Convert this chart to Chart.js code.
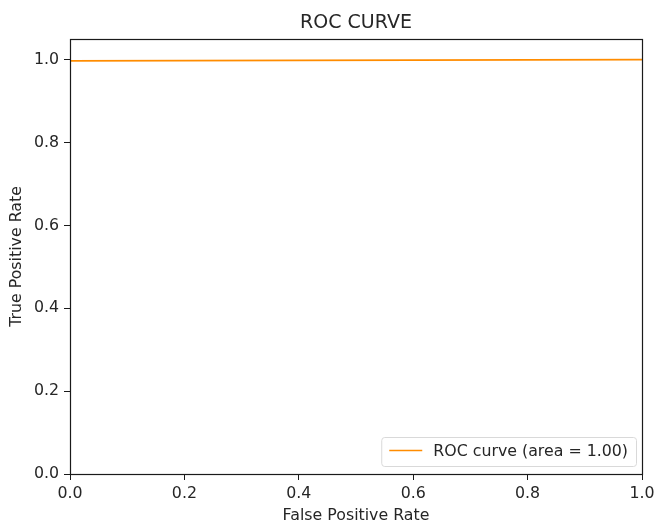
<!doctype html>
<html lang="en-US">
<head>
    <meta charset="utf-8" />
    <title>ROC CURVE</title>
    <script src="https://cdn.jsdelivr.net/npm/chart.js@4"></script>
    <style>
        html, body { margin: 0; padding: 0; background: #fff; }
        #wrap { width: 656px; height: 524px; }
    </style>
</head>
<body>
    <div id="wrap"><canvas id="roc"></canvas></div>
    <script>
        // ROC points
        const fpr = [0.0, 1.0];
        const tpr = [0.997, 1.0];
        const xTicks = [0.0, 0.2, 0.4, 0.6, 0.8, 1.0];
        const yTicks = [0.0, 0.2, 0.4, 0.6, 0.8, 1.0];
        const seriesLabel = 'ROC curve (area = 1.00)';

        const FONT = "'DejaVu Sans', sans-serif";
        const TEXT = '#262626';
        const FS = 15.8;

        // frame, title and legend drawn like matplotlib
        const mplDecor = {
            id: 'mplDecor',
            afterDraw(chart) {
                const { ctx, chartArea: a } = chart;
                ctx.save();
                ctx.strokeStyle = '#1a1a1a';
                ctx.lineWidth = 1.2;
                ctx.strokeRect(Math.round(a.left) + 0.5, Math.round(a.top) + 0.5,
                    Math.round(a.right - a.left), Math.round(a.bottom - a.top));

                ctx.fillStyle = TEXT;
                ctx.font = '19px ' + FONT;
                ctx.textAlign = 'center';
                ctx.textBaseline = 'alphabetic';
                ctx.fillText('ROC CURVE', (a.left + a.right) / 2, a.top - 11);

                // legend, lower right
                const ds = chart.data.datasets[0];
                ctx.font = FS + 'px ' + FONT;
                const tw = ctx.measureText(ds.label).width;
                const w = tw + 60, h = 29;
                const x = a.right - 6 - w, y = a.bottom - 8 - h;
                ctx.beginPath();
                ctx.roundRect(x + 0.5, y + 0.5, w, h, 3);
                ctx.fillStyle = 'rgba(255,255,255,0.8)';
                ctx.fill();
                ctx.strokeStyle = '#d9d9d9';
                ctx.lineWidth = 1;
                ctx.stroke();
                ctx.beginPath();
                ctx.strokeStyle = ds.borderColor;
                ctx.lineWidth = 1.6;
                ctx.moveTo(x + 8, y + 13.5);
                ctx.lineTo(x + 41, y + 13.5);
                ctx.stroke();
                ctx.fillStyle = TEXT;
                ctx.textAlign = 'left';
                ctx.textBaseline = 'middle';
                ctx.fillText(ds.label, x + 52, y + h / 2);
                ctx.restore();
            }
        };

        new Chart(document.getElementById('roc'), {
            type: 'line',
            data: {
                datasets: [{
                    label: seriesLabel,
                    data: fpr.map((v, i) => ({ x: v, y: tpr[i] })),
                    borderColor: '#ff8c00',
                    borderWidth: 1.8,
                    pointRadius: 0,
                    fill: false,
                    tension: 0
                }]
            },
            options: {
                responsive: true,
                maintainAspectRatio: false,
                animation: false,
                layout: { padding: { top: 39, right: 0, left: 0, bottom: 0 } },
                plugins: {
                    legend: { display: false },
                    tooltip: { enabled: false }
                },
                scales: {
                    x: {
                        type: 'linear',
                        min: 0, max: 1,
                        afterBuildTicks: s => { s.ticks = xTicks.map(v => ({ value: v })); },
                        afterFit: s => { s.height = 50; s.paddingRight = 14; },
                        grid: { drawOnChartArea: false, tickLength: 6, tickColor: '#1a1a1a', color: '#1a1a1a' },
                        border: { display: false },
                        ticks: { color: TEXT, font: { family: FONT, size: FS }, padding: 4,
                            maxRotation: 0, callback: v => v.toFixed(1) },
                        title: { display: true, text: 'False Positive Rate', color: TEXT,
                            font: { family: FONT, size: FS }, padding: { top: 0, bottom: -1 } }
                    },
                    y: {
                        type: 'linear',
                        min: 0, max: 1.05,
                        afterBuildTicks: s => { s.ticks = yTicks.map(v => ({ value: v })); },
                        afterFit: s => { s.width = 70; },
                        grid: { drawOnChartArea: false, tickLength: 6, tickColor: '#1a1a1a', color: '#1a1a1a' },
                        border: { display: false },
                        ticks: { color: TEXT, font: { family: FONT, size: FS }, padding: 5,
                            callback: v => v.toFixed(1) },
                        title: { display: true, text: 'True Positive Rate', color: TEXT,
                            font: { family: FONT, size: FS }, padding: { top: 7, bottom: 0 } }
                    }
                }
            },
            plugins: [mplDecor]
        });
    </script>
</body>
</html>
